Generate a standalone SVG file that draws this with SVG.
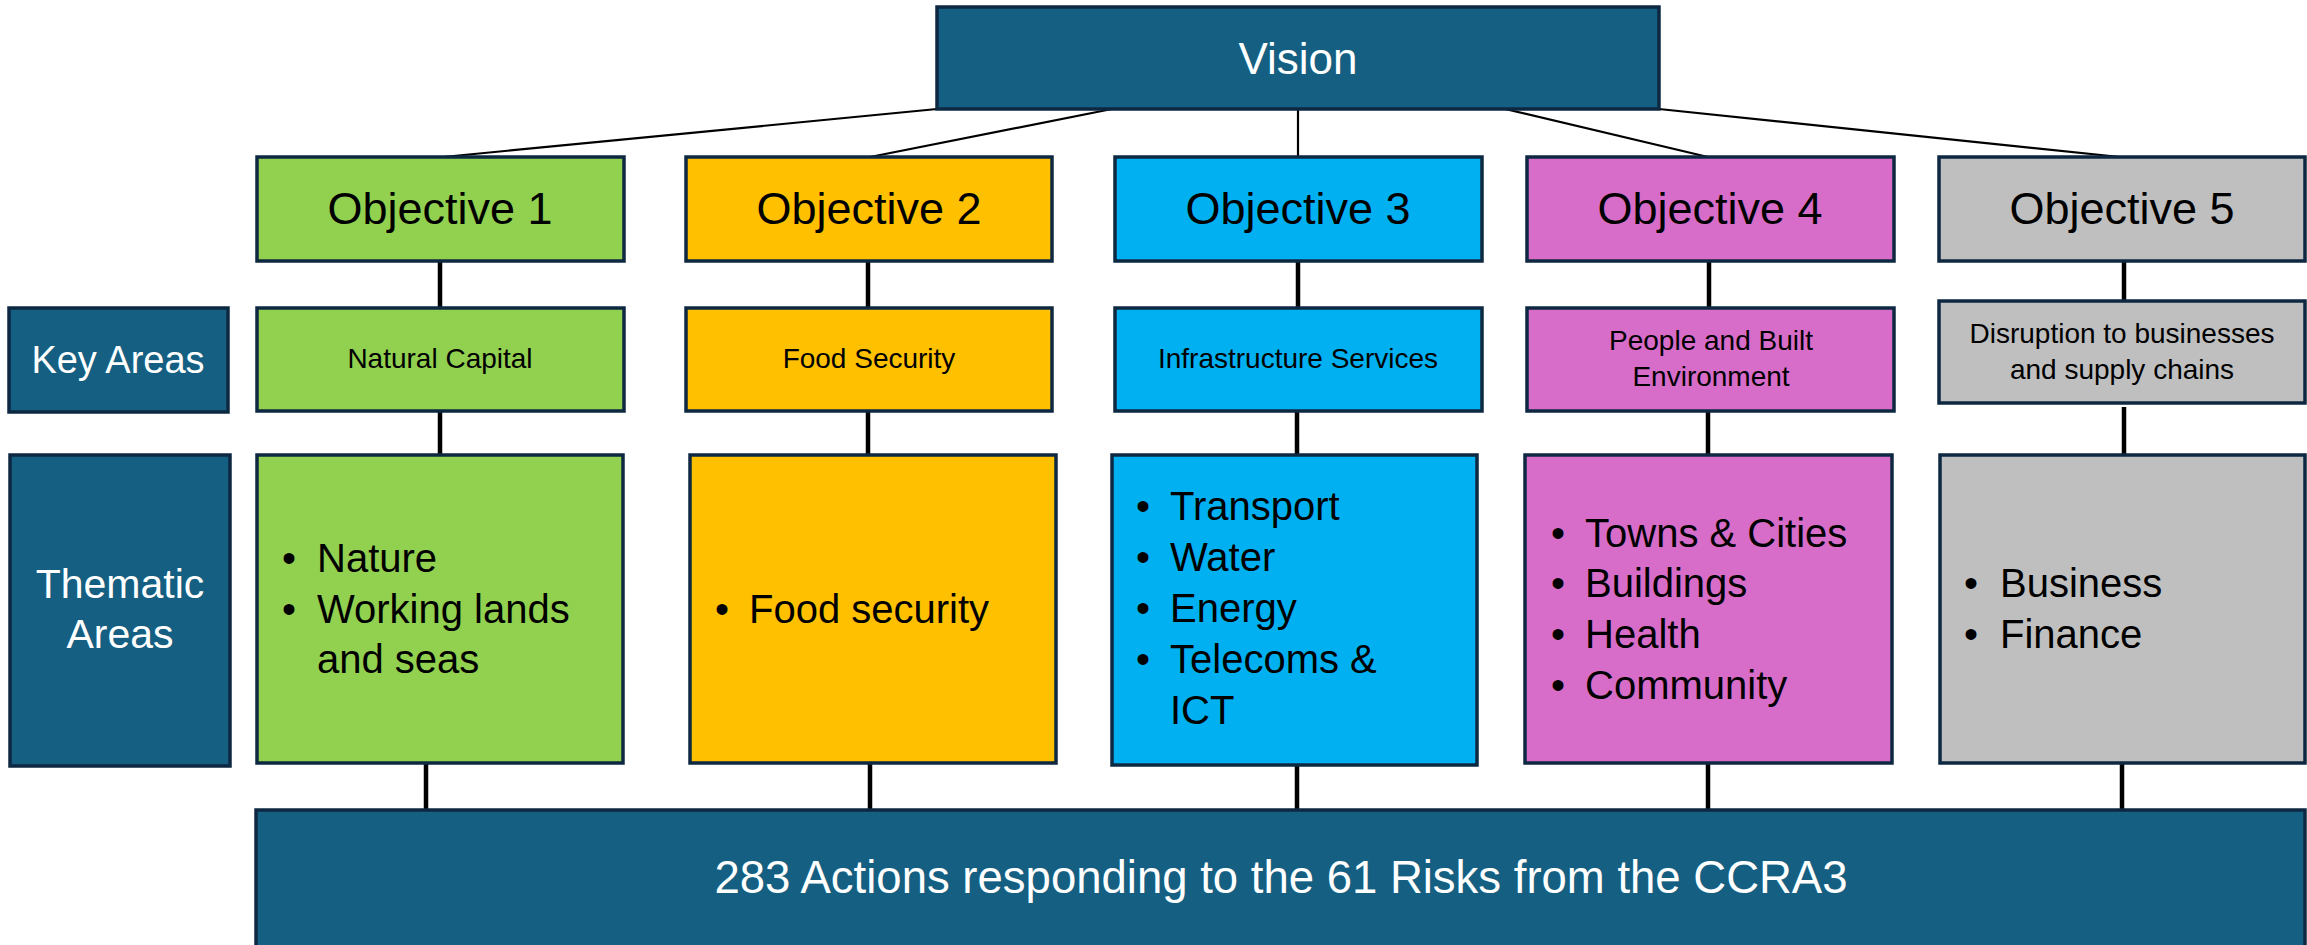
<svg xmlns="http://www.w3.org/2000/svg" width="2307" height="945" viewBox="0 0 2307 945">
<style>
text{font-family:"Liberation Sans",Arial,sans-serif;}
.box{stroke:#0E2841;stroke-width:3.5;}
.navy{fill:#156082;}
.g{fill:#92D050;} .o{fill:#FFC000;} .c{fill:#00B0F0;} .p{fill:#D76DC8;} .s{fill:#BFBFBF;}
.wt{fill:#FFFFFF;text-anchor:middle;}
.bt{fill:#000000;text-anchor:middle;}
.obj{font-size:45px;}
.key{font-size:28px;}
.lst{font-size:40px;fill:#000;}
.thin{stroke:#000;stroke-width:2.2;fill:none;}
.thick{stroke:#000;stroke-width:4.5;fill:none;}
</style>
<g id="connectors">
<line class="thin" x1="937" y1="109" x2="443" y2="157"/>
<line class="thin" x1="1112" y1="109" x2="870" y2="157"/>
<line class="thin" x1="1298" y1="109" x2="1298" y2="157"/>
<line class="thin" x1="1505" y1="109" x2="1708" y2="157"/>
<line class="thin" x1="1659" y1="109" x2="2120" y2="157"/>
<line class="thick" x1="440" y1="261" x2="440" y2="308"/>
<line class="thick" x1="440" y1="411" x2="440" y2="455"/>
<line class="thick" x1="426" y1="763" x2="426" y2="810"/>
<line class="thick" x1="868" y1="261" x2="868" y2="308"/>
<line class="thick" x1="868" y1="411" x2="868" y2="455"/>
<line class="thick" x1="870" y1="763" x2="870" y2="810"/>
<line class="thick" x1="1298" y1="261" x2="1298" y2="308"/>
<line class="thick" x1="1297" y1="411" x2="1297" y2="455"/>
<line class="thick" x1="1297" y1="765" x2="1297" y2="813"/>
<line class="thick" x1="1709" y1="261" x2="1709" y2="308"/>
<line class="thick" x1="1708" y1="411" x2="1708" y2="455"/>
<line class="thick" x1="1708" y1="763" x2="1708" y2="810"/>
<line class="thick" x1="2124" y1="261" x2="2124" y2="301"/>
<line class="thick" x1="2124" y1="407" x2="2124" y2="455"/>
<line class="thick" x1="2122" y1="763" x2="2122" y2="810"/>
</g>
<g id="vision">
<rect class="box navy" x="937" y="7" width="722" height="102"/>
<text class="wt" x="1298" y="74" font-size="44">Vision</text>
</g>
<g id="objective1">
<rect class="box g" x="257" y="157" width="367" height="104"/>
<text class="bt obj" x="440" y="224">Objective 1</text>
</g>
<g id="objective2">
<rect class="box o" x="686" y="157" width="366" height="104"/>
<text class="bt obj" x="869" y="224">Objective 2</text>
</g>
<g id="objective3">
<rect class="box c" x="1115" y="157" width="367" height="104"/>
<text class="bt obj" x="1298" y="224">Objective 3</text>
</g>
<g id="objective4">
<rect class="box p" x="1527" y="157" width="367" height="104"/>
<text class="bt obj" x="1710" y="224">Objective 4</text>
</g>
<g id="objective5">
<rect class="box s" x="1939" y="157" width="366" height="104"/>
<text class="bt obj" x="2122" y="224">Objective 5</text>
</g>
<g id="key-areas-label">
<rect class="box navy" x="9" y="308" width="219" height="104"/>
<text class="wt" x="118" y="373" font-size="38">Key Areas</text>
</g>
<g id="key1">
<rect class="box g" x="257" y="308" width="367" height="103"/>
<text class="bt key" x="440" y="368">Natural Capital</text>
</g>
<g id="key2">
<rect class="box o" x="686" y="308" width="366" height="103"/>
<text class="bt key" x="869" y="368">Food Security</text>
</g>
<g id="key3">
<rect class="box c" x="1115" y="308" width="367" height="103"/>
<text class="bt key" x="1298" y="368">Infrastructure Services</text>
</g>
<g id="key4">
<rect class="box p" x="1527" y="308" width="367" height="103"/>
<text class="bt key" x="1711" y="350">People and Built</text>
<text class="bt key" x="1711" y="386">Environment</text>
</g>
<g id="key5">
<rect class="box s" x="1939" y="301" width="366" height="102"/>
<text class="bt key" x="2122" y="343">Disruption to businesses</text>
<text class="bt key" x="2122" y="379">and supply chains</text>
</g>
<g id="thematic-areas-label">
<rect class="box navy" x="10" y="455" width="220" height="311"/>
<text class="wt" x="120" y="598" font-size="41">Thematic</text>
<text class="wt" x="120" y="648" font-size="41">Areas</text>
</g>
<g id="thematic1">
<rect class="box g" x="257" y="455" width="366" height="308"/>
<text class="lst" x="282" y="572">•</text><text class="lst" x="317" y="572">Nature</text>
<text class="lst" x="282" y="623">•</text><text class="lst" x="317" y="623">Working lands</text>
<text class="lst" x="317" y="673">and seas</text>
</g>
<g id="thematic2">
<rect class="box o" x="690" y="455" width="366" height="308"/>
<text class="lst" x="715" y="623">•</text><text class="lst" x="749" y="623">Food security</text>
</g>
<g id="thematic3">
<rect class="box c" x="1112" y="455" width="365" height="310"/>
<text class="lst" x="1136" y="520">•</text><text class="lst" x="1170" y="520">Transport</text>
<text class="lst" x="1136" y="571">•</text><text class="lst" x="1170" y="571">Water</text>
<text class="lst" x="1136" y="622">•</text><text class="lst" x="1170" y="622">Energy</text>
<text class="lst" x="1136" y="673">•</text><text class="lst" x="1170" y="673">Telecoms &amp;</text>
<text class="lst" x="1170" y="724">ICT</text>
</g>
<g id="thematic4">
<rect class="box p" x="1525" y="455" width="367" height="308"/>
<text class="lst" x="1551" y="547">•</text><text class="lst" x="1585" y="547">Towns &amp; Cities</text>
<text class="lst" x="1551" y="597">•</text><text class="lst" x="1585" y="597">Buildings</text>
<text class="lst" x="1551" y="648">•</text><text class="lst" x="1585" y="648">Health</text>
<text class="lst" x="1551" y="699">•</text><text class="lst" x="1585" y="699">Community</text>
</g>
<g id="thematic5">
<rect class="box s" x="1940" y="455" width="365" height="308"/>
<text class="lst" x="1964" y="597">•</text><text class="lst" x="2000" y="597">Business</text>
<text class="lst" x="1964" y="648">•</text><text class="lst" x="2000" y="648">Finance</text>
</g>
<g id="actions">
<rect class="box navy" x="256" y="810" width="2049" height="160"/>
<text class="wt" x="1281" y="893" font-size="45.5">283 Actions responding to the 61 Risks from the CCRA3</text>
</g>
</svg>
